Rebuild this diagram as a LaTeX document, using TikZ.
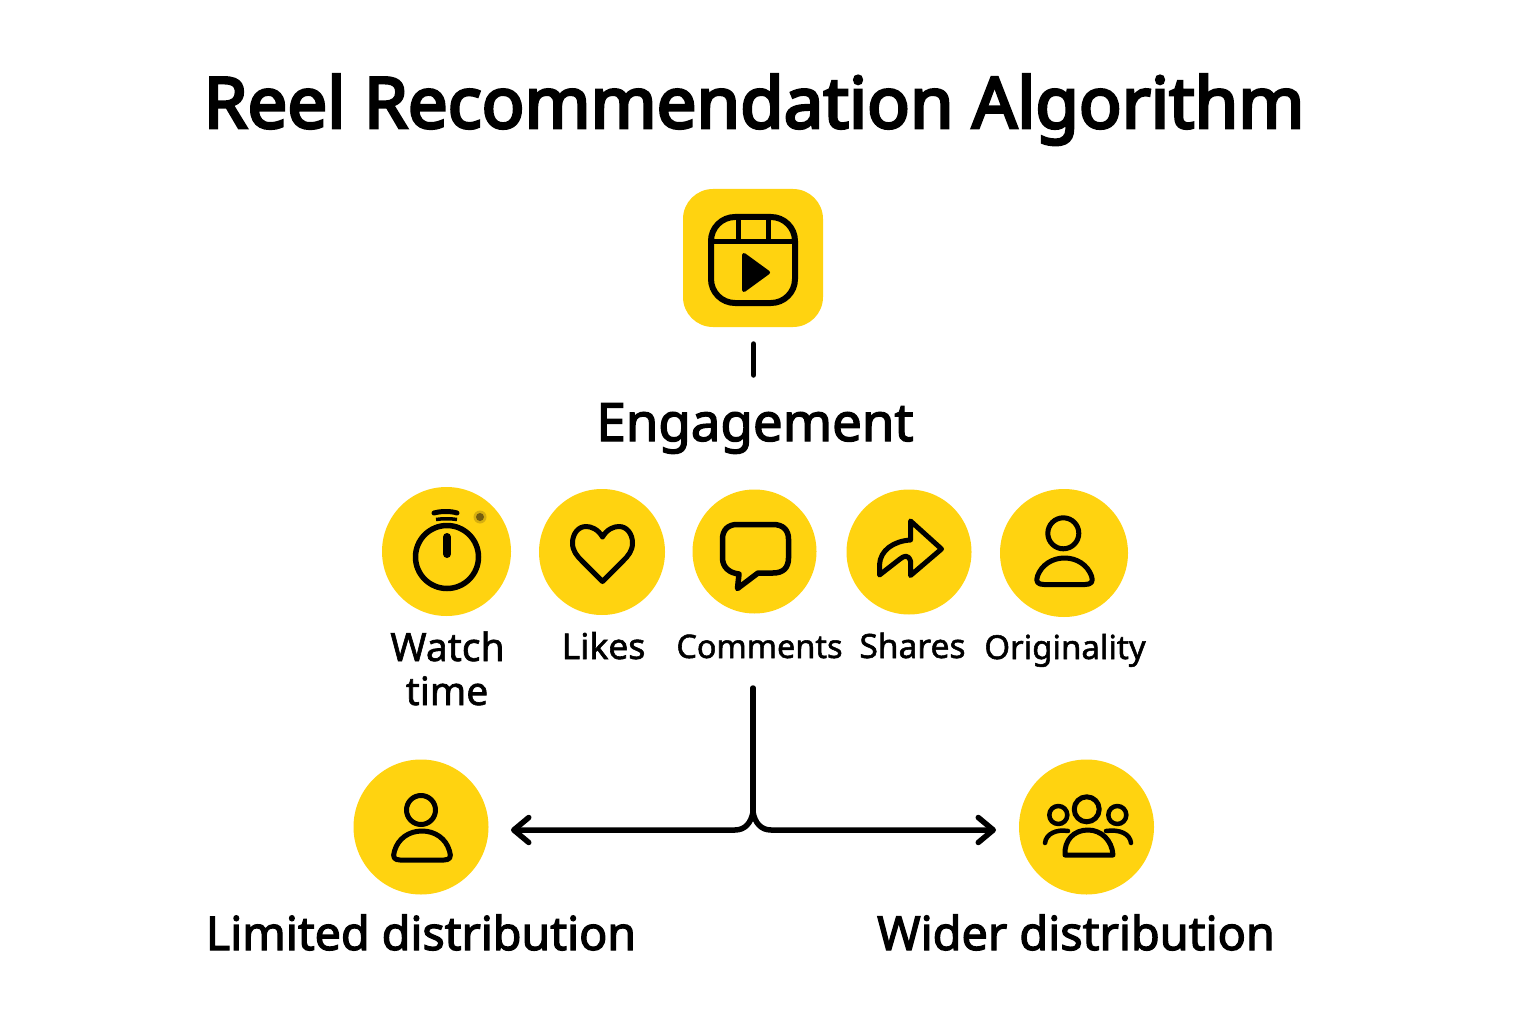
\documentclass[tikz,border=0pt]{standalone}
\usepackage{fontspec}
\setmainfont{Noto Sans}
\newfontfamily\medfont[FakeBold=1.6]{Noto Sans}
\newfontfamily\headfont[FakeBold=2.6]{Noto Sans}
\newfontfamily\titlefont[FakeBold=4]{Noto Sans}
\usetikzlibrary{arrows.meta}
\definecolor{brandy}{HTML}{FFD310}
\definecolor{spot}{HTML}{8A6E12}
\newcommand{\fs}[1]{\fontsize{#1}{#1}\selectfont}
\tikzset{
  disc/.style={circle,fill=brandy,draw=none,inner sep=0pt,minimum size=#1},
  ico/.style={draw=black,line width=5pt,line join=round,line cap=round},
  conn/.style={draw=black,line width=5.5pt,line cap=round,line join=round},
  barb/.style={{Straight Barb[length=15pt,width=25pt,line width=5.5pt,round]}-},
  lab/.style={anchor=base,inner sep=0pt,text=black,font=\medfont\fs{#1}},
}
\begin{document}
\begin{tikzpicture}[x=1pt,y=-1pt]
\useasboundingbox[fill=white] (0,0) rectangle (1536,1024);

% title and labels
\node[lab=70,font=\titlefont\fs{70.7}] (title) at (754,128) {Reel Recommendation Algorithm};
\node[lab=50,font=\headfont\fs{52.8}] (eng) at (755,441) {Engagement};
\node[lab=39] (wl1) at (447.5,661) {Watch};
\node[lab=39] (wl2) at (447,705) {time};
\node[lab=35.5] (ll) at (603.5,659) {Likes};
\node[lab=32.4] (cl) at (759.5,658) {Comments};
\node[lab=33.5] (sl) at (912.5,658) {Shares};
\node[lab=33] (ol) at (1065,659) {Originality};
\node[lab=46.6,font=\headfont\fs{46.6}] (dl) at (421,950) {Limited distribution};
\node[lab=46.6,font=\headfont\fs{46.8}] (wd) at (1076,950) {Wider distribution};

% top icon
\node[fill=brandy,rounded corners=30pt,minimum width=140pt,minimum height=138pt,inner sep=0pt] (reel) at (753,258) {};
\draw[ico,line width=6pt,rounded corners=24pt] (711,217) rectangle (795,303);
\draw[ico,line cap=butt] (711,242) -- (795,242);
\draw[ico,line cap=butt] (738,217) -- (738,242);
\draw[ico,line cap=butt] (768,217) -- (768,242);
\draw[black,fill=black,line width=4pt,line join=round] (744,255) -- (768,272.5) -- (744,290) -- cycle;

% engagement discs
\node[disc=129pt] (watch) at (446.5,551.5) {};
\node[disc=126pt] (likes) at (602,552) {};
\node[disc=124pt] (comm) at (754.5,551.5) {};
\node[disc=125pt] (share) at (909,552) {};
\node[disc=128pt] (orig) at (1064,553) {};
\node[disc=135pt] (ldist) at (421,827) {};
\node[disc=135pt] (wdist) at (1086.5,827) {};

% stopwatch
\draw[ico,line width=5.5pt] (447,557) circle[radius=31.5];
\draw[ico,line width=8pt] (447,537) -- (447,554);
\draw[ico,line width=5pt] (434,513) .. controls (441,511) and (451,511) .. (457,513);
\draw[ico,line width=3.5pt,line cap=butt] (436,519.5) .. controls (442,518.5) and (451,518.5) .. (457,519.5);
\fill[spot,opacity=.35] (480,517) circle[radius=6.5];
\fill[spot!85!black] (480,517) circle[radius=4];

% heart
\draw[ico] (602.5,537) .. controls (598,529) and (591,526.5) .. (586,526.5)
  .. controls (578,526.5) and (572.5,534) .. (572.5,543)
  .. controls (572.5,551) and (577,556) .. (582,561) -- (602.5,581.5) -- (623,561)
  .. controls (628,556) and (632.5,551) .. (632.5,543)
  .. controls (632.5,534) and (627,526.5) .. (619,526.5)
  .. controls (614,526.5) and (607,529) .. (602.5,537);

% speech bubble
\draw[ico,line width=5.5pt] (737,524.5) -- (773,524.5) .. controls (783,524.5) and (788.5,530) .. (788.5,539)
  -- (788.5,558) .. controls (788.5,568) and (783,573) .. (773,573) -- (758,573) -- (737.5,588.5)
  -- (739,574) .. controls (729,573) and (722.5,567) .. (722.5,558) -- (722.5,539)
  .. controls (722.5,530) and (728,524.5) .. (737,524.5) -- cycle;

% share arrow
\draw[ico] (910.5,521) -- (941.5,549) -- (910.5,575.5) -- (910.5,561)
  .. controls (908,554) and (904,556) .. (900,559) -- (879.5,575)
  -- (879.5,565) .. controls (880,550) and (894,541) .. (910.5,540) -- cycle;

% person (originality)
\draw[ico] (1063.3,533.3) circle[radius=15.5];
\draw[ico] (1044,584.5) .. controls (1037.5,584.5) and (1035.5,581.5) .. (1037.5,576)
  .. controls (1041.5,565) and (1052,558) .. (1064.5,558)
  .. controls (1077,558) and (1087.5,565) .. (1091.5,576)
  .. controls (1093.5,581.5) and (1091.5,584.5) .. (1085,584.5) -- cycle;

% person (limited)
\draw[ico] (421,810) circle[radius=14.5];
\draw[ico] (400,860) .. controls (394,860) and (392.5,857) .. (394.5,851)
  .. controls (398,838.5) and (409,831) .. (422,831)
  .. controls (435,831) and (446,838.5) .. (449.5,851)
  .. controls (451.5,857) and (450,860) .. (444,860) -- cycle;

% group
\draw[ico] (1086.7,809.3) circle[radius=12.5];
\draw[ico,line width=4.5pt] (1058.3,815) circle[radius=9];
\draw[ico,line width=4.5pt] (1117.3,815) circle[radius=9];
\draw[ico] (1065,855) .. controls (1064,840) and (1074,830) .. (1088,830)
  .. controls (1101,830) and (1112,840) .. (1113,855) -- cycle;
\draw[ico,line width=4.5pt] (1045,843) .. controls (1046,834) and (1056,829) .. (1068,831);
\draw[ico,line width=4.5pt] (1131,843) .. controls (1130,834) and (1120,829) .. (1106,831);

% connectors
\coordinate (tickend) at (753.5,344);
\coordinate (tickfoot) at (753.5,375);
\draw[conn] (tickend) -- (tickfoot);
\coordinate (stem) at (753,688);
\coordinate (fork) at (753,812);
\coordinate (ltip) at (511,830);
\coordinate (rtip) at (996,830);
\draw[conn] (stem) -- (fork);
\draw[conn,barb] (ltip) -- (735,830) .. controls (745,830) and (751,823) .. (fork);
\draw[conn,-{Straight Barb[length=15pt,width=25pt,line width=5.5pt,round]}] (fork) .. controls (755,823) and (761,830) .. (771,830) -- (rtip);
\end{tikzpicture}
\end{document}
